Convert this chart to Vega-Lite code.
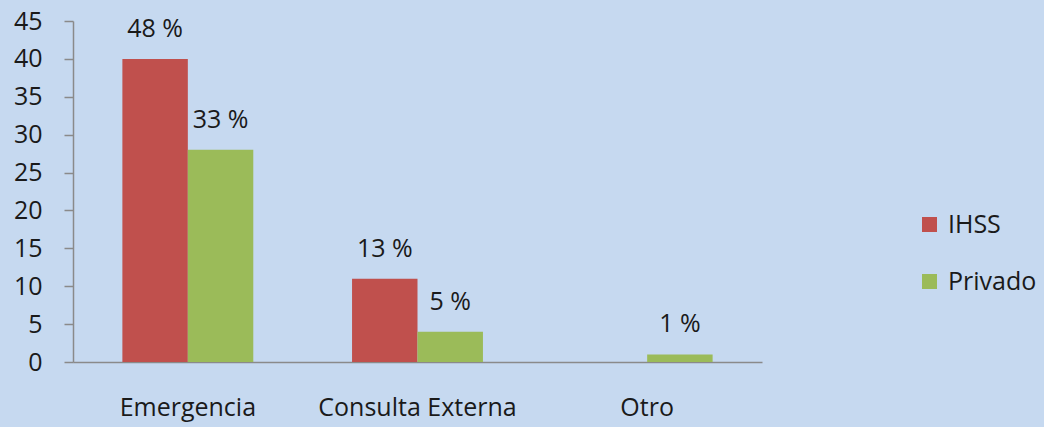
{
  "$schema": "https://vega.github.io/schema/vega-lite/v6.json",
  "width": 689,
  "height": 341,
  "autosize": {"type": "none"},
  "padding": {"left": 73, "top": 21, "right": 282, "bottom": 65},
  "background": "#C6D9F0",
  "config": {
    "view": {"stroke": null},
    "font": "Open Sans",
    "axis": {"labelFont": "Open Sans", "labelColor": "#1a1a1a", "domainColor": "#8a8a8a", "tickColor": "#8a8a8a", "grid": false},
    "legend": {"labelFont": "Open Sans"}
  },
  "data": {
    "values": [
      {"cat": "Emergencia", "serie": "IHSS", "valor": 40, "label": "48 %"},
      {"cat": "Emergencia", "serie": "Privado", "valor": 28, "label": "33 %"},
      {"cat": "Consulta Externa", "serie": "IHSS", "valor": 11, "label": "13 %"},
      {"cat": "Consulta Externa", "serie": "Privado", "valor": 4, "label": "5 %"},
      {"cat": "Otro", "serie": "IHSS", "valor": 0, "label": ""},
      {"cat": "Otro", "serie": "Privado", "valor": 1, "label": "1 %"}
    ]
  },
  "encoding": {
    "x": {
      "field": "cat", "type": "nominal", "sort": null,
      "scale": {"paddingInner": 0.43, "paddingOuter": 0.215},
      "axis": {"title": null, "labelAngle": 0, "ticks": false, "labelFontSize": 25, "labelPadding": 33, "labelLimit": 400, "labelOverlap": false, "domainWidth": 1.5}
    },
    "xOffset": {"field": "serie", "type": "nominal", "sort": ["IHSS", "Privado"], "scale": {"paddingInner": 0, "paddingOuter": 0}},
    "y": {
      "field": "valor", "type": "quantitative",
      "scale": {"domain": [0, 45], "nice": false},
      "axis": {"title": null, "values": [0,5,10,15,20,25,30,35,40,45], "labelFontSize": 25, "tickSize": 9, "labelPadding": 22, "domainWidth": 1.5, "tickWidth": 1.5}
    }
  },
  "layer": [
    {
      "mark": {"type": "bar"},
      "encoding": {
        "color": {
          "field": "serie", "type": "nominal",
          "scale": {"domain": ["IHSS", "Privado"], "range": ["#C0504D", "#9BBB59"]},
          "legend": {"title": null, "orient": "none", "legendX": 844, "legendY": 191, "symbolType": "square", "symbolSize": 225, "symbolStrokeWidth": 0, "labelFontSize": 25, "labelColor": "#1a1a1a", "rowPadding": 31, "labelOffset": 6}
        }
      }
    },
    {
      "mark": {"type": "text", "baseline": "alphabetic", "dy": -22, "fontSize": 25, "color": "#1a1a1a"},
      "encoding": {"text": {"field": "label"}}
    }
  ]
}
